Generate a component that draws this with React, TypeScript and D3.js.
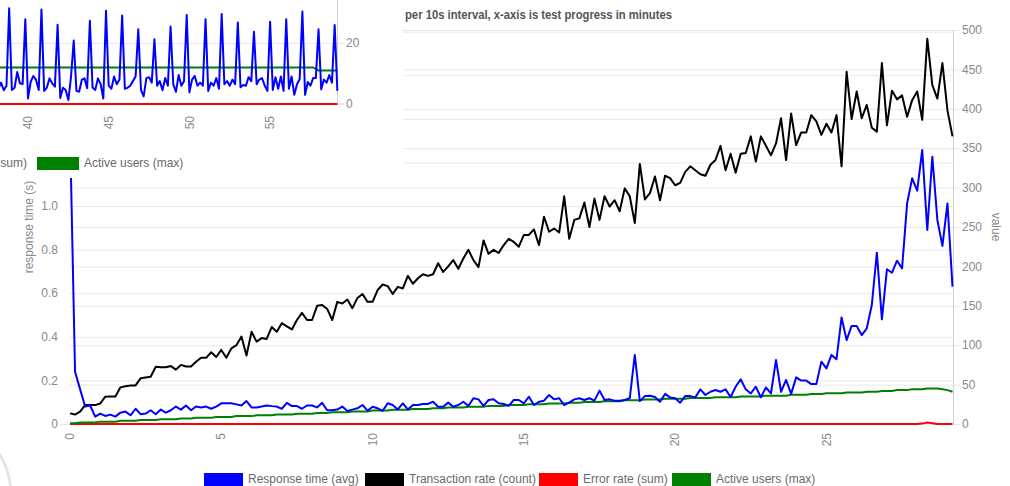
import React from "react";
import * as d3 from "d3";

// ---------- main chart data (10 s intervals, x = minutes) ----------
const respTime = [
  1.35, 0.24, 0.16, 0.08, 0.085, 0.034, 0.048, 0.037, 0.043, 0.034,
  0.052, 0.057, 0.04, 0.07, 0.045, 0.048, 0.063, 0.045, 0.066, 0.052,
  0.063, 0.08, 0.066, 0.085, 0.063, 0.08, 0.076, 0.08, 0.07, 0.08,
  0.095, 0.095, 0.095, 0.09, 0.085, 0.105, 0.076, 0.076, 0.08, 0.085,
  0.082, 0.08, 0.07, 0.097, 0.082, 0.082, 0.07, 0.085, 0.085, 0.076,
  0.097, 0.063, 0.063, 0.066, 0.08, 0.06, 0.066, 0.072, 0.087, 0.061,
  0.079, 0.072, 0.06, 0.095, 0.087, 0.067, 0.095, 0.067, 0.087, 0.087,
  0.092, 0.092, 0.102, 0.079, 0.079, 0.098, 0.079, 0.087, 0.102, 0.083,
  0.118, 0.113, 0.083, 0.11, 0.113, 0.095, 0.092, 0.083, 0.11, 0.11,
  0.095, 0.125, 0.087, 0.102, 0.107, 0.133, 0.113, 0.118, 0.087, 0.098,
  0.113, 0.118, 0.11, 0.118, 0.107, 0.153, 0.11, 0.113, 0.107, 0.107,
  0.11, 0.118, 0.317, 0.105, 0.128, 0.13, 0.124, 0.102, 0.138, 0.122,
  0.118, 0.098, 0.128, 0.128, 0.122, 0.159, 0.133, 0.148, 0.156, 0.148,
  0.159, 0.124, 0.171, 0.205, 0.159, 0.14, 0.171, 0.122, 0.168, 0.14,
  0.294, 0.148, 0.202, 0.138, 0.214, 0.199, 0.199, 0.183, 0.183, 0.286,
  0.255, 0.317, 0.297, 0.489, 0.385, 0.45, 0.45, 0.408, 0.439, 0.546,
  0.786, 0.48, 0.71, 0.694, 0.749, 0.714, 1.012, 1.127, 1.07, 1.257,
  0.89, 1.226, 0.936, 0.817, 1.012, 0.63,
];

const txRate = [
  13.5, 12, 15.6, 24, 24, 24, 26, 34.7, 35, 35,
  46.5, 48, 49, 49, 58, 59, 60, 72.7, 72, 72,
  73.5, 69, 75, 73, 73, 79, 84, 84, 91, 85,
  94, 84, 96, 100, 111, 87, 117, 104.5, 109, 108,
  123, 117, 128, 124, 120, 132, 141, 132, 132, 150,
  151, 146, 132, 155, 153, 158, 147, 160, 165, 155,
  155, 170, 177, 175, 165, 174, 172, 188, 178, 185,
  190, 188, 190, 204, 193, 200, 208, 197, 210, 221,
  208, 199, 233, 216, 221, 217, 227, 235, 231, 225,
  240, 240, 247, 227, 263, 244, 248, 243, 289, 235,
  259, 261, 281, 250, 286, 259, 289, 276, 284, 270,
  299, 289, 255, 330, 285, 293, 314, 284, 315, 312,
  303, 306, 320, 327, 322, 317, 315, 329, 335, 353,
  322, 343, 319, 343, 344, 365, 333, 365, 353, 341,
  356, 388, 335, 394, 354, 370, 370, 392, 384, 367,
  381, 370, 392, 327, 447, 387, 422, 388, 405, 376,
  371, 458, 379, 423, 412, 417, 390, 411, 422, 386,
  489, 430, 413, 458, 398, 365,
];

const errRate = [
  0, 0, 0, 0, 0, 0, 0, 0, 0, 0, 0, 0, 0, 0, 0, 0,
  0, 0, 0, 0, 0, 0, 0, 0, 0, 0, 0, 0, 0, 0, 0, 0,
  0, 0, 0, 0, 0, 0, 0, 0, 0, 0, 0, 0, 0, 0, 0, 0,
  0, 0, 0, 0, 0, 0, 0, 0, 0, 0, 0, 0, 0, 0, 0, 0,
  0, 0, 0, 0, 0, 0, 0, 0, 0, 0, 0, 0, 0, 0, 0, 0,
  0, 0, 0, 0, 0, 0, 0, 0, 0, 0, 0, 0, 0, 0, 0, 0,
  0, 0, 0, 0, 0, 0, 0, 0, 0, 0, 0, 0, 0, 0, 0, 0,
  0, 0, 0, 0, 0, 0, 0, 0, 0, 0, 0, 0, 0, 0, 0, 0,
  0, 0, 0, 0, 0, 0, 0, 0, 0, 0, 0, 0, 0, 0, 0, 0,
  0, 0, 0, 0, 0, 0, 0, 0, 0, 0, 0, 0, 0, 0, 0, 0,
  0, 0, 0, 0, 0, 0, 0, 0, 0, 0.5, 2, 1, 0, 0, 0, 0,
];

const activeUsers = [
  1, 1, 2, 2, 2, 2, 3, 3, 3, 3, 4, 4, 4, 4, 5, 5,
  5, 5, 6, 6, 6, 6, 7, 7, 7, 8, 8, 8, 8, 9, 9, 9,
  9, 10, 10, 10, 10, 11, 11, 11, 11, 12, 12, 12, 12, 13, 13, 13,
  13, 14, 14, 14, 15, 15, 15, 15, 16, 16, 16, 16, 17, 17, 17, 17,
  18, 18, 18, 18, 19, 19, 19, 19, 20, 20, 20, 21, 21, 21, 21, 22,
  22, 22, 22, 23, 23, 23, 23, 24, 24, 24, 24, 25, 25, 25, 25, 26,
  26, 26, 26, 27, 27, 27, 28, 28, 28, 28, 29, 29, 29, 29, 30, 30,
  30, 30, 31, 31, 31, 31, 32, 32, 32, 32, 32, 33, 33, 33, 33, 33,
  34, 34, 34, 34, 34, 35, 35, 35, 35, 35, 36, 36, 36, 36, 36, 37,
  37, 37, 37, 38, 38, 38, 39, 39, 39, 39, 40, 40, 40, 40, 41, 41,
  41, 42, 42, 42, 43, 43, 43, 44, 44, 44, 45, 45, 45, 44, 43, 41,
];

const minuteTicks = [0, 5, 10, 15, 20, 25];
const leftTicks = [0, 0.2, 0.4, 0.6, 0.8, 1.0, 1.2, 1.4, 1.6, 1.8];
const rightTicks = [0, 50, 100, 150, 200, 250, 300, 350, 400, 450, 500];
const legendLabels = ["Response time (avg)", "Transaction rate (count)", "Error rate (sum)", "Active users (max)"];
const seriesColors = ["#0000ff", "#000000", "#ff0000", "#008000"];
const titleText = "per 10s interval, x-axis is test progress in minutes";

// ---------- overlapping small chart (minutes 38..59) ----------
const smallStartIndex = 228;
const smallResp = [
  10, 5, 7, 4.5, 6, 31.4, 4.6, 5.3, 10.5, 6.8,
  6.5, 27.8, 1.8, 7.3, 9.2, 7.9, 4.6, 31, 4.3, 5.4,
  8.4, 6.8, 5.7, 26, 2, 5.3, 4.6, 1.3, 9, 20.8,
  4.3, 4, 7.9, 8.4, 5.2, 27.3, 5.4, 4.6, 8.4, 6.5,
  1.8, 30.6, 6, 5, 9, 6.5, 8, 29, 5, 5.3,
  6, 7.5, 9, 24.5, 4.6, 2.5, 8.5, 8.8, 7, 21.2,
  6, 7.5, 4.5, 8.5, 6, 25.4, 6.5, 4, 9.5, 6,
  7.5, 29.2, 3.8, 8, 9.2, 6, 7, 6, 27.8, 4.3,
  7, 6, 8.5, 5, 29.5, 6.5, 7.5, 6, 8, 6.5,
  26.7, 5.5, 6.2, 6, 8.8, 7.5, 23.7, 6.5, 8, 8.5,
  6, 4.3, 27, 4.6, 8.8, 5, 9, 4.3, 27.8, 5,
  9, 3, 6.5, 8.2, 30.3, 3, 7.2, 6, 8.5, 8.5,
  24.5, 4.8, 8, 7, 9.5, 7, 25.9, 4.3,
];
const smallUsers = [
  12, 12, 12, 12, 12, 12, 12, 12, 12, 12, 12, 12, 12, 12, 12, 12,
  12, 12, 12, 12, 12, 12, 12, 12, 12, 12, 12, 12, 12, 12, 12, 12,
  12, 12, 12, 12, 12, 12, 12, 12, 12, 12, 12, 12, 12, 12, 12, 12,
  12, 12, 12, 12, 12, 12, 12, 12, 12, 12, 12, 12, 12, 12, 12, 12,
  12, 12, 12, 12, 12, 12, 12, 12, 12, 12, 12, 12, 12, 12, 12, 12,
  12, 12, 12, 12, 12, 12, 12, 12, 12, 12, 12, 12, 12, 12, 12, 12,
  12, 12, 12, 12, 12, 12, 12, 12, 12, 12, 12, 12, 12, 12, 12, 12,
  12, 12, 12, 12, 12, 12, 12, 11.5, 11, 11, 11, 11, 11, 11, 11, 11,
];
const smallErr = [
  0, 0, 0, 0, 0, 0, 0, 0, 0, 0, 0, 0, 0, 0, 0, 0,
  0, 0, 0, 0, 0, 0, 0, 0, 0, 0, 0, 0, 0, 0, 0, 0,
  0, 0, 0, 0, 0, 0, 0, 0, 0, 0, 0, 0, 0, 0, 0, 0,
  0, 0, 0, 0, 0, 0, 0, 0, 0, 0, 0, 0, 0, 0, 0, 0,
  0, 0, 0, 0, 0, 0, 0, 0, 0, 0, 0, 0, 0, 0, 0, 0,
  0, 0, 0, 0, 0, 0, 0, 0, 0, 0, 0, 0, 0, 0, 0, 0,
  0, 0, 0, 0, 0, 0, 0, 0, 0, 0, 0, 0, 0, 0, 0, 0,
  0, 0, 0, 0, 0, 0, 0, 0, 0, 0, 0, 0, 0, 0, 0, 0,
];
const smallMinuteTicks = [40, 45, 50, 55];
const smallValueTicks = [0, 20];

const FONT = "'Liberation Sans', Arial, Helvetica, sans-serif";
const TICK_COLOR = "#8a8a8a";
const GRID = "#e8e8e8";

export default function App() {
  // main chart scales
  const x = d3.scaleLinear().domain([0, (respTime.length - 1) / 6]).range([70, 952.5]);
  const yL = d3.scaleLinear().domain([0, 1.8]).range([424, 31.6]);
  const yR = d3.scaleLinear().domain([0, 500]).range([424, 30]);
  const lineL = d3.line<number>().x((_, i) => x(i / 6)).y((d) => yL(d));
  const lineR = d3.line<number>().x((_, i) => x(i / 6)).y((d) => yR(d));

  // small chart scales
  const xs = d3.scaleLinear().domain([40, 55]).range([28, 270.1]);
  const ys = d3.scaleLinear().domain([0, 20]).range([104, 43]);
  const lineS = d3.line<number>().x((_, i) => xs((smallStartIndex + i) / 6)).y((d) => ys(d));

  const legendX = [204, 365, 539, 672];
  const sw = 39;

  return (
    <svg
      width={1010}
      height={486}
      style={{ position: "absolute", left: 0, top: 0, background: "#fff" }}
      fontFamily={FONT}
    >
      <rect x={0} y={0} width={1010} height={486} fill="#fff" />

      {/* gridlines */}
      {rightTicks.map((t) => (
        <line key={"gr" + t} x1={t === 0 ? 60 : 70} x2={960} y1={yR(t) + 0.5} y2={yR(t) + 0.5} stroke={GRID} strokeWidth={1} />
      ))}
      {leftTicks.map((t) => (
        <line key={"gl" + t} x1={70} x2={953} y1={yL(t) + 0.5} y2={yL(t) + 0.5} stroke={GRID} strokeWidth={1} />
      ))}

      {/* right axis */}
      <line x1={953.5} x2={953.5} y1={30} y2={424} stroke="#d0d0d0" strokeWidth={1} />
      {rightTicks.map((t) => (
        <text key={"rt" + t} x={962} y={yR(t)} dy="0.35em" fontSize={12} fill={TICK_COLOR}>
          {t}
        </text>
      ))}
      <text transform="translate(996,227) rotate(90)" textAnchor="middle" dy="0.35em" fontSize={12} fill={TICK_COLOR}>
        value
      </text>

      {/* left axis */}
      {leftTicks.map((t) => (
        <text key={"lt" + t} x={58} y={yL(t)} dy="0.35em" textAnchor="end" fontSize={12} fill={TICK_COLOR}>
          {t === 0 ? "0" : t.toFixed(1)}
        </text>
      ))}
      <text transform="translate(29,227) rotate(-90)" textAnchor="middle" dy="0.35em" fontSize={12} fill={TICK_COLOR}>
        response time (s)
      </text>

      {/* x axis labels */}
      {minuteTicks.map((t) => (
        <text
          key={"xt" + t}
          transform={`translate(${x(t)},433) rotate(-90)`}
          textAnchor="end"
          dy="0.35em"
          fontSize={12}
          fill={TICK_COLOR}
        >
          {t}
        </text>
      ))}

      {/* series */}
      <path d={lineR(errRate) || ""} fill="none" stroke={seriesColors[2]} strokeWidth={2} />
      <path d={lineR(activeUsers) || ""} fill="none" stroke={seriesColors[3]} strokeWidth={2} />
      <path d={lineR(txRate) || ""} fill="none" stroke={seriesColors[1]} strokeWidth={2} strokeLinejoin="round" />
      <path d={lineL(respTime) || ""} fill="none" stroke={seriesColors[0]} strokeWidth={2} strokeLinejoin="round" />

      {/* legend */}
      {legendLabels.map((lab, k) => (
        <g key={"lg" + k}>
          <rect x={legendX[k]} y={473} width={sw} height={13} fill={seriesColors[k]} />
          <text x={legendX[k] + sw + 5} y={483} fontSize={12} fill="#6a6a6a">
            {lab}
          </text>
        </g>
      ))}

      {/* faint arc bottom-left */}
      <circle cx={-67} cy={495} r={78} fill="none" stroke="#e6e6de" strokeWidth={3} />

      {/* title */}
      <text x={405} y={19} fontSize={12} fontWeight="bold" fill="#555" textLength={267} lengthAdjust="spacingAndGlyphs">
        {titleText}
      </text>

      {/* overlapping small chart */}
      <rect x={0} y={0} width={403} height={178} fill="#fff" />
      <line x1={0} x2={344} y1={ys(20) + 0.5} y2={ys(20) + 0.5} stroke={GRID} strokeWidth={1} />
      <line x1={337.5} x2={337.5} y1={0} y2={104} stroke="#d0d0d0" strokeWidth={1} />
      <line x1={337} x2={344} y1={ys(0)} y2={ys(0)} stroke="#d0d0d0" strokeWidth={1} />
      {smallValueTicks.map((t) => (
        <text key={"st" + t} x={346} y={ys(t)} dy="0.35em" fontSize={12} fill={TICK_COLOR}>
          {t}
        </text>
      ))}
      {smallMinuteTicks.map((t) => (
        <text
          key={"sx" + t}
          transform={`translate(${xs(t)},116) rotate(-90)`}
          textAnchor="end"
          dy="0.35em"
          fontSize={12}
          fill={TICK_COLOR}
        >
          {t}
        </text>
      ))}
      <path d={lineS(smallErr) || ""} fill="none" stroke={seriesColors[2]} strokeWidth={2} />
      <path d={lineS(smallUsers) || ""} fill="none" stroke={seriesColors[3]} strokeWidth={2} />
      <path d={lineS(smallResp) || ""} fill="none" stroke={seriesColors[0]} strokeWidth={2} strokeLinejoin="round" />

      {/* small chart legend fragment */}
      <text x={27} y={167} textAnchor="end" fontSize={12} fill="#6a6a6a">
        {legendLabels[2]}
      </text>
      <rect x={37} y={157} width={42} height={13} fill={seriesColors[3]} />
      <text x={84} y={167} fontSize={12} fill="#6a6a6a">
        {legendLabels[3]}
      </text>
    </svg>
  );
}
